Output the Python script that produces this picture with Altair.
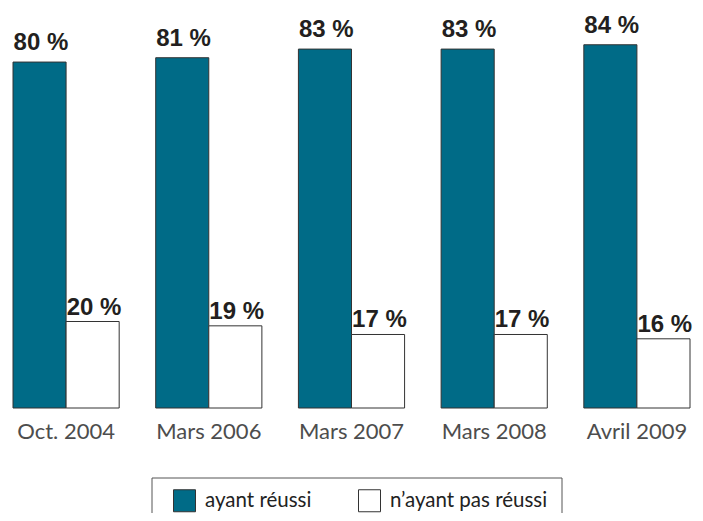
import altair as alt
import pandas as pd

periods = ["Oct. 2004", "Mars 2006", "Mars 2007", "Mars 2008", "Avril 2009"]
series = ["ayant réussi", "n’ayant pas réussi"]
reussi = [80, 81, 83, 83, 84]
non_reussi = [20, 19, 17, 17, 16]

rows = []
for p, a, b in zip(periods, reussi, non_reussi):
    rows.append({"period": p, "series": series[0], "value": a})
    rows.append({"period": p, "series": series[1], "value": b})
df = pd.DataFrame(rows)
df["label"] = df["value"].astype(str) + " %"

TEAL = "#006b87"

x = alt.X("period:N", sort=periods,
          scale=alt.Scale(paddingInner=0.256, paddingOuter=0, round=False),
          axis=alt.Axis(title=None, domain=False, ticks=False, labelAngle=0,
                        labelFont="Lato", labelFontSize=22, labelColor="#4d4d4d",
                        labelPadding=13))
xo = alt.XOffset("series:N", sort=series,
                 scale=alt.Scale(paddingInner=0, paddingOuter=0, round=False))
y = alt.Y("value:Q", scale=alt.Scale(domain=[0, 92.5], nice=False, zero=True), axis=None)
color = alt.Color("series:N", sort=series,
                  scale=alt.Scale(domain=series, range=[TEAL, "#ffffff"]),
                  legend=alt.Legend(orient="none", legendX=160, legendY=481,
                                    direction="horizontal", title=None,
                                    symbolType="square", symbolSize=484,
                                    symbolStrokeColor="#333333", symbolStrokeWidth=1,
                                    labelFont="Lato", labelFontSize=20.5, labelColor="#222222",
                                    labelOffset=9, columnPadding=44, padding=0))

base = alt.Chart(df)
bars = base.mark_bar(stroke="#333333", strokeWidth=1).encode(x=x, xOffset=xo, y=y, color=color)

txt_kw = dict(align="left", baseline="alphabetic", dx=-26, font="Liberation Sans",
              fontWeight="bold", fontSize=24, color="#231f20")
lab_a = base.transform_filter(alt.datum.series == series[0]).mark_text(dy=-12, **txt_kw).encode(
    x=x, xOffset=xo, y=y, text="label:N")
lab_b = base.transform_filter(alt.datum.series == series[1]).mark_text(dy=-7, **txt_kw).encode(
    x=x, xOffset=xo, y=y, text="label:N")

frame = alt.Chart(pd.DataFrame({"k": [0]})).mark_rect(
    fill="transparent", stroke="#555555", strokeWidth=1).encode(
    x=alt.value(139), x2=alt.value(549), y=alt.value(470), y2=alt.value(560))

chart = alt.layer(bars, lab_a, lab_b, frame).properties(
    width=677, height=400,
    autosize=alt.AutoSizeParams(type="none"),
    padding={"left": 5, "top": 0, "right": 5, "bottom": 105},
).configure_view(stroke=None)

chart.save("out.html", embed_options={"renderer": "svg", "actions": False})
